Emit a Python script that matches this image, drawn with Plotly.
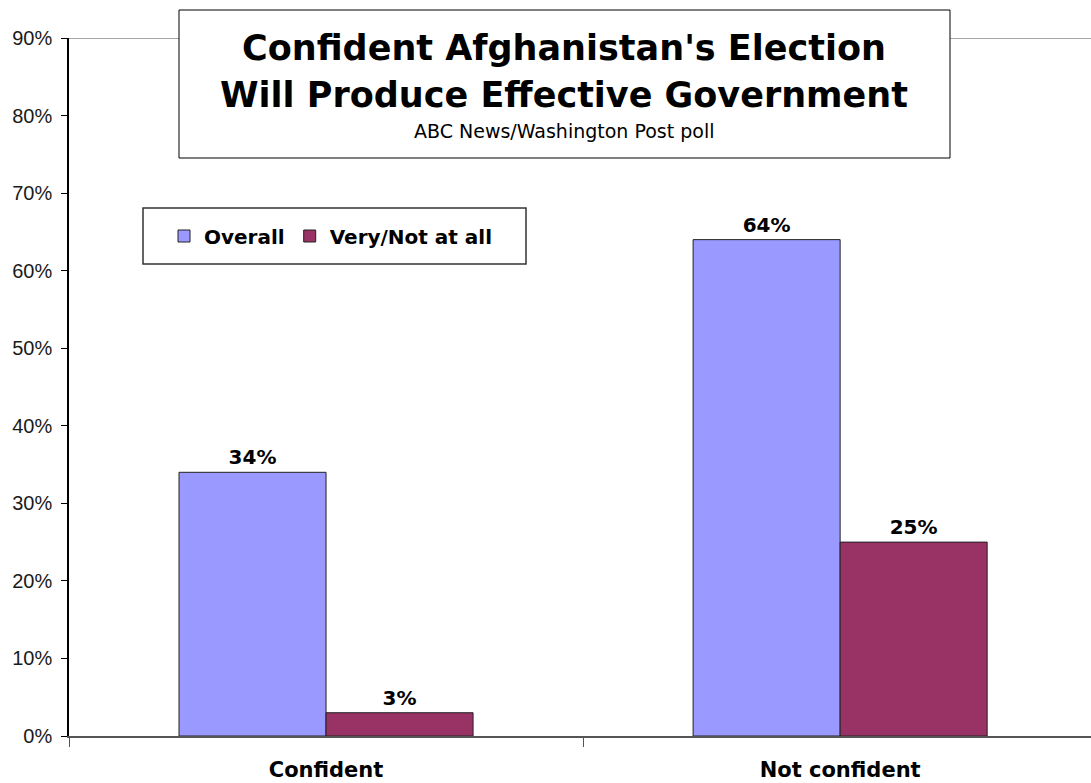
import plotly.graph_objects as go

categories = ["Confident", "Not confident"]
overall = [34, 64]
very_not = [3, 25]
series_names = ["Overall", "Very/Not at all"]
y_ticks = [0, 10, 20, 30, 40, 50, 60, 70, 80, 90]
y_ticklabels = [f"{v}%" for v in y_ticks]

FONT = "Arial, Liberation Sans, sans-serif"
WIDE = "DejaVu Sans, Verdana, sans-serif"

fig = go.Figure()
fig.add_trace(go.Bar(
    x=categories, y=overall, name=series_names[0],
    marker=dict(color="#9999FF", line=dict(color="#222222", width=1)),
    texttemplate="%{y}%", textposition="outside",
    textfont=dict(family=WIDE, size=20, color="#000000", weight="bold"),
    cliponaxis=False,
))
fig.add_trace(go.Bar(
    x=categories, y=very_not, name=series_names[1],
    marker=dict(color="#993366", line=dict(color="#222222", width=1)),
    texttemplate="%{y}%", textposition="outside",
    textfont=dict(family=WIDE, size=20, color="#000000", weight="bold"),
    cliponaxis=False,
))

fig.update_layout(
    width=1091, height=783,
    margin=dict(l=69, r=0, t=38, b=47),
    paper_bgcolor="white", plot_bgcolor="white",
    barmode="group", bargap=0.428, bargroupgap=0,
    font=dict(family=FONT, color="#000000"),
    showlegend=True,
    legend=dict(
        orientation="h", x=(164 - 69) / 1022, y=(736 - 236) / 698,
        xanchor="left", yanchor="middle",
        bgcolor="rgba(0,0,0,0)", borderwidth=0,
        font=dict(family=WIDE, size=20, color="#000000", weight="bold"),
        itemwidth=30, traceorder="normal",
    ),
    xaxis=dict(
        type="category", range=[-0.5, 1.488],
        tickmode="array", tickvals=categories, ticktext=[f"<b>{c}</b>" for c in categories],
        tickson="boundaries", ticks="outside", ticklen=9, tickcolor="#555555",
        showline=True, linecolor="#555555", linewidth=2,
        tickfont=dict(family=WIDE, size=21, color="#000000"),
        showgrid=False, ticklabelstandoff=14,
    ),
    yaxis=dict(
        range=[0, 90], tickmode="array", tickvals=y_ticks, ticktext=y_ticklabels,
        ticks="outside", ticklen=6, tickcolor="#000000",
        showline=True, linecolor="#000000", linewidth=1.5,
        tickfont=dict(family=FONT, size=20, color="#1a1a1a"),
        showgrid=False, zeroline=False, ticklabelstandoff=5,
    ),
    shapes=[
        dict(type="line", xref="paper", yref="y", x0=0, x1=1, y0=90, y1=90,
             line=dict(color="#888888", width=1.5), layer="below"),
        # title box
        dict(type="rect", xref="paper", yref="paper",
             x0=(179 - 69) / 1022, x1=(950 - 69) / 1022,
             y0=(736 - 158) / 698, y1=(736 - 10) / 698,
             fillcolor="white", line=dict(color="#000000", width=1)),
        # legend box
        dict(type="rect", xref="paper", yref="paper",
             x0=(143 - 69) / 1022, x1=(526 - 69) / 1022,
             y0=(736 - 264) / 698, y1=(736 - 208) / 698,
             fillcolor="white", line=dict(color="#333333", width=1.5), layer="below"),
    ],
    annotations=[
        dict(text="<b>Confident Afghanistan's Election</b>", xref="paper", yref="paper",
             x=(564 - 69) / 1022, y=(736 - 48) / 698, showarrow=False,
             font=dict(family=WIDE, size=35, color="#000000"), xanchor="center", yanchor="middle"),
        dict(text="<b>Will Produce Effective Government</b>", xref="paper", yref="paper",
             x=(564 - 69) / 1022, y=(736 - 95) / 698, showarrow=False,
             font=dict(family=WIDE, size=35, color="#000000"), xanchor="center", yanchor="middle"),
        dict(text="ABC News/Washington Post poll", xref="paper", yref="paper",
             x=(564 - 69) / 1022, y=(736 - 131) / 698, showarrow=False,
             font=dict(family=WIDE, size=19, color="#000000"), xanchor="center", yanchor="middle"),
    ],
)

fig.write_html("out.html")
